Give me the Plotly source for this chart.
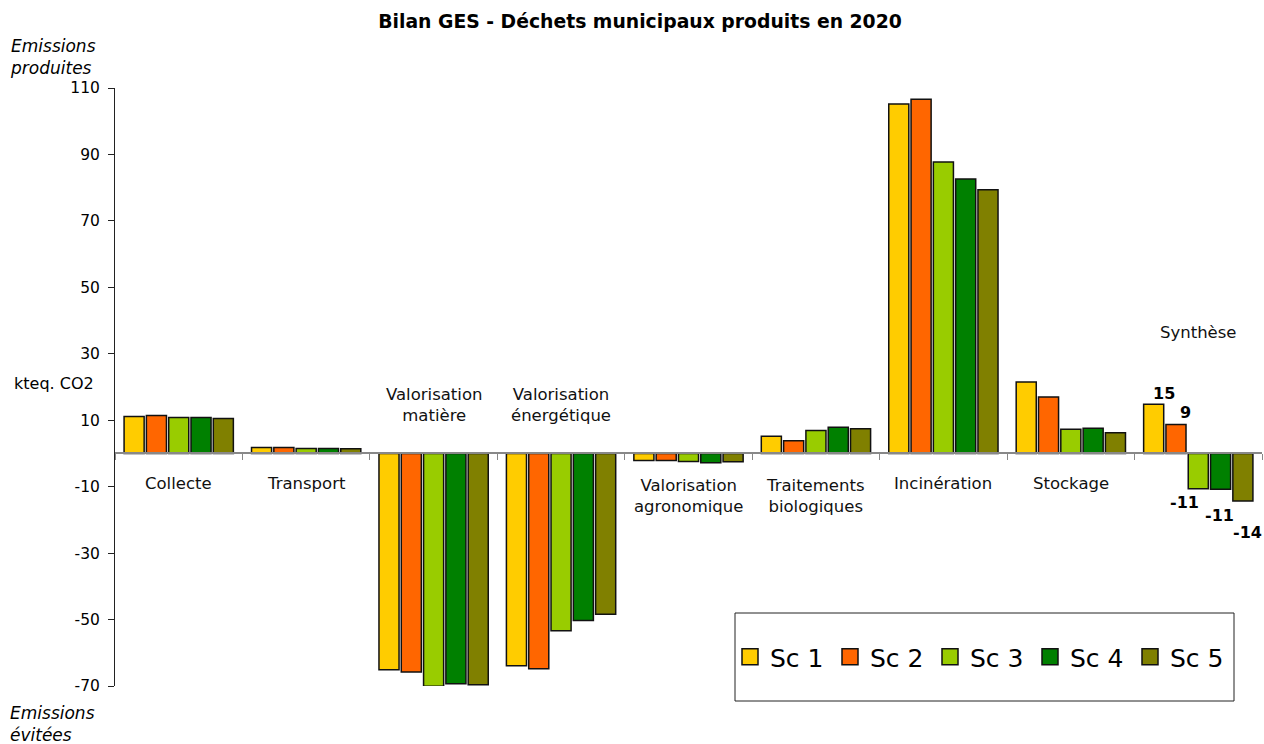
import plotly.graph_objects as go

# --- data -------------------------------------------------------------
categories = ["Collecte", "Transport", "Valorisation matière", "Valorisation énergétique",
              "Valorisation agronomique", "Traitements biologiques", "Incinération",
              "Stockage", "Synthèse"]
category_labels = ["Collecte", "Transport", "Valorisation<br>matière", "Valorisation<br>énergétique",
                   "Valorisation<br>agronomique", "Traitements<br>biologiques", "Incinération",
                   "Stockage", "Synthèse"]
# vertical position (kteq. CO2) of each category caption
label_y = [-9, -9, 14.7, 14.7, -12.8, -12.8, -9, -9, 36.4]

scenarios = ["Sc 1", "Sc 2", "Sc 3", "Sc 4", "Sc 5"]
sc1 = [11.1, 1.8, -65.1, -63.9, -2.1, 5.2, 105.2, 21.5, 14.8]
sc2 = [11.4, 1.8, -65.8, -64.8, -2.1, 3.8, 106.6, 17.0, 8.7]
sc3 = [10.8, 1.5, -70.1, -53.4, -2.4, 6.9, 87.7, 7.3, -10.6]
sc4 = [10.8, 1.5, -69.3, -50.3, -2.8, 7.9, 82.6, 7.6, -10.8]
sc5 = [10.5, 1.4, -69.6, -48.4, -2.5, 7.4, 79.4, 6.2, -14.3]
series = [sc1, sc2, sc3, sc4, sc5]
colors = ["#FFCC00", "#FF6600", "#99CC00", "#008000", "#808000"]

y_ticks = [110, 90, 70, 50, 30, 10, -10, -30, -50, -70]
y_tick_text = [str(v) for v in y_ticks]

# --- layout geometry --------------------------------------------------
W, H = 1264, 744
M_L, M_R, M_T, M_B = 115, 2, 88, 58
Y_MIN, Y_MAX = -70, 110
FONT = "DejaVu Sans"
BARGAP, GROUPGAP = 0.125, 0.1
# pixel nudges (dx, dy) of the value labels on the last group, per scenario
value_label_nudge = [(10, -11), (10, -12), (-14, 14), (-1, 26), (5, 32)]


def px_x(p):
    return (p - M_L) / (W - M_L - M_R)


def px_y(p):
    return (H - M_B - p) / (H - M_T - M_B)


fig = go.Figure()
x_idx = list(range(len(categories)))
synth = len(categories) - 1

for name, vals, col in zip(scenarios, series, colors):
    fig.add_trace(go.Bar(
        x=x_idx, y=vals, name=name, showlegend=False,
        marker=dict(color=col, line=dict(color="#111111", width=1.5)),
        hovertemplate="%{y}<extra>" + name + "</extra>",
    ))

# legend entries
for name, col in zip(scenarios, colors):
    fig.add_trace(go.Scatter(
        x=[None], y=[None], mode="markers", name=name,
        marker=dict(symbol="square", size=16, color=col, line=dict(color="#111111", width=1.5)),
    ))

annotations = []
for i, (lab, yv) in enumerate(zip(category_labels, label_y)):
    annotations.append(dict(x=i, y=yv, xref="x", yref="y", text=lab, showarrow=False,
                            font=dict(family=FONT, size=16.5, color="#111111")))

# value labels on the "Synthèse" group
cat_px = (W - M_L - M_R) / len(categories)
slot_px = cat_px * (1 - BARGAP) / len(scenarios)
for k, (vals, (dx, dy)) in enumerate(zip(series, value_label_nudge)):
    v = vals[synth]
    annotations.append(dict(
        x=synth, y=v, xref="x", yref="y", text=f"<b>{round(v):d}</b>", showarrow=False,
        xshift=(k - (len(scenarios) - 1) / 2) * slot_px + dx, yshift=-dy,
        font=dict(family=FONT, size=16, color="black")))

annotations += [
    dict(x=px_x(8), y=px_y(57), xref="paper", yref="paper", xanchor="left", yanchor="middle",
         text="<i>Emissions<br>produites</i>", align="left", showarrow=False,
         font=dict(family=FONT, size=17, color="black")),
    dict(x=px_x(8), y=px_y(724), xref="paper", yref="paper", xanchor="left", yanchor="middle",
         text="<i>Emissions<br>évitées</i>", align="left", showarrow=False,
         font=dict(family=FONT, size=17, color="black")),
    dict(x=px_x(12), y=px_y(383), xref="paper", yref="paper", xanchor="left", yanchor="middle",
         text="kteq. CO2", showarrow=False, font=dict(family=FONT, size=16, color="black")),
]

fig.update_layout(
    width=W, height=H,
    margin=dict(l=M_L, r=M_R, t=M_T, b=M_B, autoexpand=False),
    paper_bgcolor="white", plot_bgcolor="white",
    title=dict(text="<b>Bilan GES - Déchets municipaux produits en 2020</b>",
               x=640 / W, xanchor="center", y=1 - 21 / H, yanchor="middle", xref="container",
               font=dict(family=FONT, size=18.8, color="black")),
    barmode="group", bargap=BARGAP, bargroupgap=GROUPGAP,
    showlegend=True,
    legend=dict(orientation="h", x=px_x(730), y=px_y(657), xanchor="left", yanchor="middle",
                font=dict(family=FONT, size=25, color="black"),
                bgcolor="rgba(0,0,0,0)", borderwidth=0, entrywidth=55),
    annotations=annotations,
    shapes=[dict(type="rect", xref="paper", yref="paper",
                 x0=px_x(735), x1=px_x(1234), y0=px_y(701), y1=px_y(613),
                 line=dict(color="#222222", width=1), fillcolor="white", layer="below")],
)

fig.update_yaxes(range=[Y_MIN, Y_MAX], tickvals=y_ticks, ticktext=y_tick_text,
                 ticks="outside", ticklen=6, ticklabelstandoff=5,
                 tickcolor="#222222", showline=True, linecolor="#222222", linewidth=1,
                 showgrid=False, zeroline=False,
                 tickfont=dict(family=FONT, size=15.5, color="black"))
fig.update_xaxes(range=[-0.5, len(categories) - 0.5],
                 tickvals=[i - 0.5 for i in range(len(categories) + 1)],
                 showticklabels=False, ticks="outside", ticklen=6, tickcolor="#888888",
                 showline=True, linecolor="#888888", linewidth=1.5, showgrid=False,
                 zeroline=False, anchor="free",
                 position=(0 - Y_MIN) / (Y_MAX - Y_MIN))

fig.write_html("out.html")
